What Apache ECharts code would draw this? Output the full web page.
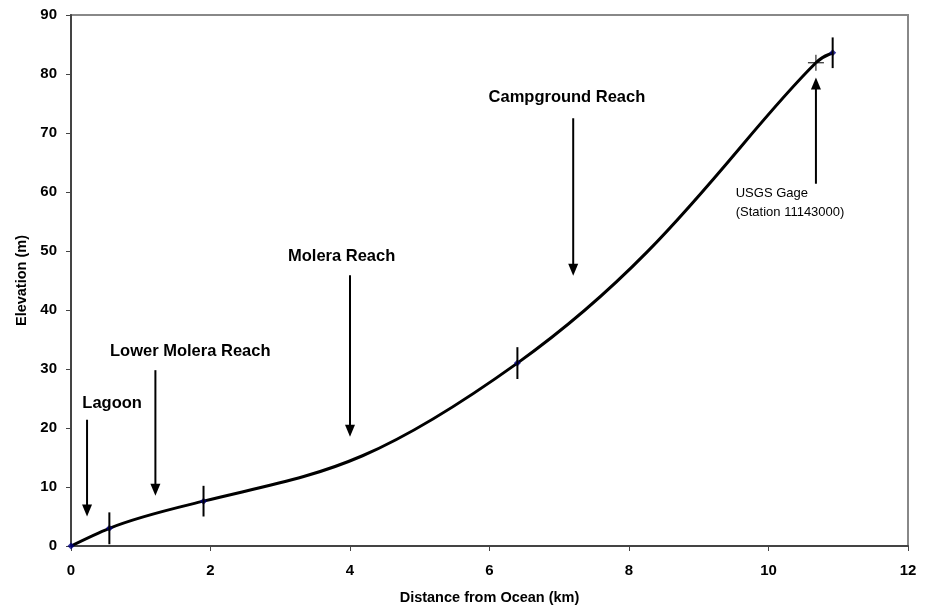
<!DOCTYPE html>
<html>
<head>
<meta charset="utf-8">
<script src="https://cdn.jsdelivr.net/npm/echarts@6/dist/echarts.min.js"></script>
<style>html,body{margin:0;padding:0;background:#fff}#c{width:932px;height:610px}</style>
</head>
<body>
<div id="c"></div>
<script>
// ---- data ----
const distanceKm   = [0, 0.55, 1.9, 6.4, 10.92];
const elevationM   = [0, 3.0, 7.6, 31.0, 83.6];
const errorHalf    = [0, 2.7, 2.6, 2.7, 2.6];
const gageX = [10.68];
const gageY = [81.9];
const xTicks = [0, 2, 4, 6, 8, 10, 12];
const yTicks = [0, 10, 20, 30, 40, 50, 60, 70, 80, 90];
// annotation arrows: x, start of shaft, tip (data units)
const arrowX   = [0.23, 1.21, 4.0, 7.2, 10.68];
const arrowTop = [21.4, 29.8, 45.9, 72.5, 61.4];
const arrowTip = [5.0, 8.5, 18.5, 45.8, 79.4];
// labels: text, x, y (data units)
const labelText = ['Lagoon', 'Lower Molera Reach', 'Molera Reach', 'Campground Reach'];
const labelX = [0.59, 1.71, 3.88, 7.11];
const labelY = [24.2, 32.9, 49.0, 76.1];
const gageText = ['USGS Gage', '(Station 11143000)'];
const gageTextX = [9.53];
const gageTextY = [61.3];

const FONT = '"Liberation Sans", Arial, sans-serif';
const SMOOTH = 0.25;      // Catmull-Rom tangent factor (upper reach)
const MAX_HANDLE = 0.6;   // limit of a handle relative to its segment
const SPLINE_POINTS = 3;  // first points use natural-spline tangents
const chart = echarts.init(document.getElementById('c'));

const profile = distanceKm.map((x, i) => [x, elevationM[i]]);
// the smoothed line runs through the measured points and the gage
const curve = profile.concat(gageX.map((x, i) => [x, gageY[i]])).sort((a, b) => a[0] - b[0]);
const errData = distanceKm.map((x, i) => [x, elevationM[i], errorHalf[i]]).filter(d => d[2] > 0);
const arrowData = arrowX.map((x, i) => [x, arrowTop[i], arrowTip[i]]);
const labelData = labelX.map((x, i) => [x, labelY[i]]);

// natural cubic spline (chord-length parameter) through pixel points -> bezier segments
function splineSegments(pts) {
  const n = pts.length, t = [0];
  for (let i = 1; i < n; i++) t.push(t[i - 1] + Math.hypot(pts[i][0] - pts[i - 1][0], pts[i][1] - pts[i - 1][1]));
  const second = dim => {
    const M = new Array(n).fill(0);
    const a = [], b = [], c = [], d = [];
    for (let i = 1; i < n - 1; i++) {
      const h0 = t[i] - t[i - 1], h1 = t[i + 1] - t[i];
      a.push(h0); b.push(2 * (h0 + h1)); c.push(h1);
      d.push(6 * ((pts[i + 1][dim] - pts[i][dim]) / h1 - (pts[i][dim] - pts[i - 1][dim]) / h0));
    }
    const m = b.length;
    for (let i = 1; i < m; i++) { const w = a[i] / b[i - 1]; b[i] -= w * c[i - 1]; d[i] -= w * d[i - 1]; }
    const x = new Array(m);
    x[m - 1] = d[m - 1] / b[m - 1];
    for (let i = m - 2; i >= 0; i--) x[i] = (d[i] - c[i] * x[i + 1]) / b[i];
    for (let i = 0; i < m; i++) M[i + 1] = x[i];
    return M;
  };
  const Mx = second(0), My = second(1), segs = [];
  for (let i = 0; i < n - 1; i++) {
    const h = t[i + 1] - t[i];
    const d0 = [Mx, My].map((M, k) => (pts[i + 1][k] - pts[i][k]) / h - h * (2 * M[i] + M[i + 1]) / 6);
    const d1 = [Mx, My].map((M, k) => (pts[i + 1][k] - pts[i][k]) / h + h * (M[i] + 2 * M[i + 1]) / 6);
    segs.push({ out: [d0[0] * h / 3, d0[1] * h / 3], inn: [d1[0] * h / 3, d1[1] * h / 3] });
  }
  return segs;
}
function crHandle(v, seg) {
  let h = [SMOOTH * v[0], SMOOTH * v[1]];
  const hl = Math.hypot(h[0], h[1]), sl = Math.hypot(seg[0], seg[1]);
  if (hl > MAX_HANDLE * sl && hl > 0) { const k = MAX_HANDLE * sl / hl; h = [h[0] * k, h[1] * k]; }
  return h;
}

chart.setOption({
  animation: false,
  backgroundColor: '#fff',
  grid: { left: 71, right: 24, top: 15, bottom: 64, show: true, borderColor: '#888', borderWidth: 2 },
  xAxis: {
    type: 'value', min: 0, max: 12, interval: 2,
    name: 'Distance from Ocean (km)', nameLocation: 'middle', nameGap: 44,
    nameTextStyle: { fontFamily: FONT, fontWeight: 'bold', fontSize: 14.5, color: '#000' },
    axisLine: { lineStyle: { color: '#444', width: 2 } },
    axisTick: { show: true, length: 5, lineStyle: { color: '#444', width: 1 } },
    axisLabel: { fontFamily: FONT, fontWeight: 'bold', fontSize: 15, color: '#000', margin: 17,
      formatter: v => xTicks.includes(v) ? String(v) : '' },
    splitLine: { show: false }
  },
  yAxis: {
    type: 'value', min: 0, max: 90, interval: 10,
    name: 'Elevation (m)', nameLocation: 'middle', nameGap: 40, nameRotate: 90,
    nameTextStyle: { fontFamily: FONT, fontWeight: 'bold', fontSize: 14.5, color: '#000' },
    axisLine: { show: true, lineStyle: { color: '#444', width: 2 } },
    axisTick: { show: true, length: 5, lineStyle: { color: '#444', width: 1 } },
    axisLabel: { fontFamily: FONT, fontWeight: 'bold', fontSize: 15, color: '#000', margin: 14,
      formatter: v => yTicks.includes(v) ? String(v) : '' },
    splitLine: { show: false }
  },
  series: [
    {
      // smoothed profile curve through the points
      type: 'custom', data: curve, z: 3, clip: false,
      renderItem: (params, api) => {
        const i = params.dataIndex, n = curve.length;
        if (i >= n - 1) return null;
        const pts = curve.map(p => api.coord(p));
        const segs = splineSegments(pts);
        const P = k => pts[Math.max(0, Math.min(n - 1, k))];
        const p0 = P(i - 1), p1 = P(i), p2 = P(i + 1), p3 = P(i + 2);
        const seg = [p2[0] - p1[0], p2[1] - p1[1]];
        const h1 = i < SPLINE_POINTS ? segs[i].out : crHandle([p2[0] - p0[0], p2[1] - p0[1]], seg);
        const h2 = i + 1 < SPLINE_POINTS ? segs[i].inn : crHandle([p3[0] - p1[0], p3[1] - p1[1]], seg);
        return { type: 'bezierCurve',
          shape: { x1: p1[0], y1: p1[1], cpx1: p1[0] + h1[0], cpy1: p1[1] + h1[1],
                   cpx2: p2[0] - h2[0], cpy2: p2[1] - h2[1], x2: p2[0], y2: p2[1] },
          style: { stroke: '#000', lineWidth: 3, fill: null } };
      }
    },
    {
      type: 'scatter', data: profile, z: 4,
      symbol: 'diamond', symbolSize: 7, itemStyle: { color: '#000080' }
    },
    {
      type: 'custom', data: errData, z: 5,
      renderItem: (params, api) => {
        const x = api.value(0), y = api.value(1), e = api.value(2);
        const p1 = api.coord([x, y + e]), p2 = api.coord([x, y - e]);
        return { type: 'line', shape: { x1: p1[0], y1: p1[1], x2: p2[0], y2: p2[1] },
          style: { stroke: '#000', lineWidth: 2 } };
      }
    },
    {
      type: 'custom', data: gageX.map((x, i) => [x, gageY[i]]), z: 6,
      renderItem: (params, api) => {
        const p = api.coord([api.value(0), api.value(1)]);
        return { type: 'group', children: [
          { type: 'line', shape: { x1: p[0] - 8, y1: p[1], x2: p[0] + 8, y2: p[1] }, style: { stroke: '#000', lineWidth: 1 } },
          { type: 'line', shape: { x1: p[0], y1: p[1] - 8, x2: p[0], y2: p[1] + 8 }, style: { stroke: '#000', lineWidth: 1 } }
        ]};
      }
    },
    {
      type: 'custom', data: arrowData, z: 6,
      renderItem: (params, api) => {
        const x = api.value(0);
        const top = api.coord([x, api.value(1)]);
        const tip = api.coord([x, api.value(2)]);
        const dir = tip[1] > top[1] ? 1 : -1;
        const headLen = 12, headW = 5;
        const base = tip[1] - dir * headLen;
        return { type: 'group', children: [
          { type: 'line', shape: { x1: top[0], y1: top[1], x2: top[0], y2: base + dir * 1 },
            style: { stroke: '#000', lineWidth: 2 } },
          { type: 'polygon', shape: { points: [[tip[0], tip[1]], [tip[0] - headW, base], [tip[0] + headW, base]] },
            style: { fill: '#000' } }
        ]};
      }
    },
    {
      type: 'custom', data: labelData, z: 6,
      renderItem: (params, api) => {
        const p = api.coord([api.value(0), api.value(1)]);
        return { type: 'text', x: p[0], y: p[1],
          style: { text: labelText[params.dataIndex], fontFamily: FONT, fontWeight: 'bold', fontSize: 16.5,
            fill: '#000', align: 'center', verticalAlign: 'middle' } };
      }
    },
    {
      type: 'custom', data: gageTextX.map((x, i) => [x, gageTextY[i]]), z: 6,
      renderItem: (params, api) => {
        const p = api.coord([api.value(0), api.value(1)]);
        return { type: 'text', x: p[0], y: p[1],
          style: { text: gageText.join('\n'), fontFamily: FONT, fontSize: 13, lineHeight: 19,
            fill: '#000', align: 'left', verticalAlign: 'top' } };
      }
    }
  ]
});
</script>
</body>
</html>
